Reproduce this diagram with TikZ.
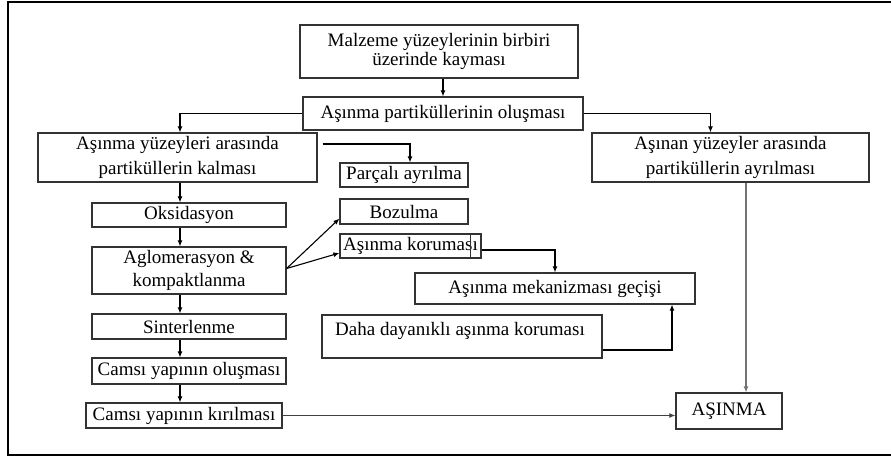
\documentclass[tikz,border=0pt]{standalone}
\usepackage{fontspec}
\setmainfont{Liberation Serif}
\usetikzlibrary{arrows.meta}
\begin{document}
\begin{tikzpicture}[x=1pt,y=-1pt,
  box/.style={draw=black!80, line width=1.2pt, inner sep=0pt, align=center,
    font=\fontsize{19}{24}\selectfont},
  txt/.style={inner sep=0pt, align=center, font=\fontsize{19}{24}\selectfont},
  arr/.style={-{Latex[length=6pt,width=5pt]}, line width=1.1pt, black},
  garr/.style={-{Latex[length=6pt,width=5pt]}, line width=1.4pt, black!55},
  frame/.style={line width=2.4pt, black}]
\useasboundingbox (0,0) rectangle (891,459);
\draw[frame] (893,2) -- (8,2) -- (8,455) -- (893,455);

\node[box, minimum width=278pt, minimum height=53pt,
  font=\fontsize{19}{19}\selectfont] (m1) at (439,51.5) {Malzeme yüzeylerinin birbiri\\üzerinde kayması};
\node[box, minimum width=280pt, minimum height=33pt] (m2) at (443,113.5) {Aşınma partiküllerinin oluşması};
\node[box, minimum width=279pt, minimum height=49pt,
  font=\fontsize{19}{25}\selectfont] (lk) at (177.5,157.5) {Aşınma yüzeyleri arasında\\partiküllerin kalması};
\node[box, minimum width=277pt, minimum height=49pt,
  font=\fontsize{19}{25}\selectfont] (ra) at (730.5,157.5) {Aşınan yüzeyler arasında\\partiküllerin ayrılması};
\node[box, minimum width=128pt, minimum height=24pt] (pa) at (404,175) {Parçalı ayrılma};
\node[box, minimum width=128pt, minimum height=25pt] (bo) at (404,211.5) {Bozulma};
\node[box, minimum width=141pt, minimum height=24pt] (kor) at (410.5,246) {Aşınma koruması};
\draw[draw=black!80, line width=1.2pt] (kor.north east) ++(-11,0) -- ++(0,24);
\node[box, minimum width=194pt, minimum height=24pt] (ok) at (189,215) {Oksidasyon};
\node[box, minimum width=194pt, minimum height=47pt,
  font=\fontsize{19}{23}\selectfont] (ag) at (189,270.5) {Aglomerasyon \&\\kompaktlanma};
\node[box, minimum width=194pt, minimum height=25pt] (si) at (189,326.5) {Sinterlenme};
\node[box, minimum width=194pt, minimum height=26pt] (co) at (189,371) {Camsı yapının oluşması};
\node[box, minimum width=196pt, minimum height=25pt] (ck) at (184,415.5) {Camsı yapının kırılması};
\node[box, minimum width=106pt, minimum height=36pt] (as) at (729,411) {AŞINMA};
\node[box, minimum width=280pt, minimum height=31pt] (me) at (555,288.5) {Aşınma mekanizması geçişi};
\node[box, minimum width=280pt, minimum height=43pt] (da) at (462,336.5) {};
\node[txt] (dat) at (460,331) {Daha dayanıklı aşınma koruması};

\coordinate (colx) at (180,0);
\coordinate (colr) at (746,0);

\draw[arr] (m1.south -| m2) -- (m2.north);
\draw[arr] (m2.west) -| (lk.north -| colx);
\draw[arr] (m2.east) -| ([xshift=-20pt]ra.north);
\draw[arr] ([xshift=5pt,yshift=13.5pt]lk.east) -| ([xshift=6pt]pa.north);
\draw[arr] (lk.south -| colx) -- (ok.north -| colx);
\draw[arr] (ok.south -| colx) -- (ag.north -| colx);
\draw[arr] (ag.south -| colx) -- (si.north -| colx);
\draw[arr] (si.south -| colx) -- (co.north -| colx);
\draw[arr] (co.south -| colx) -- (ck.north -| colx);
\draw[arr] ([yshift=2pt]ag.east) -- ([yshift=6pt]bo.south west);
\draw[arr] ([yshift=2pt]ag.east) -- ([yshift=-7pt]kor.west);
\draw[arr] ([yshift=-4pt]kor.east) -| (me.north);
\draw[arr] ([yshift=-13.5pt]da.east) -| ([xshift=117pt]me.south);
\draw[arr, black!75] (ck.east) -- (ck.east -| as.west);
\draw[garr] (ra.south -| colr) -- (as.north -| colr);
\end{tikzpicture}
\end{document}
